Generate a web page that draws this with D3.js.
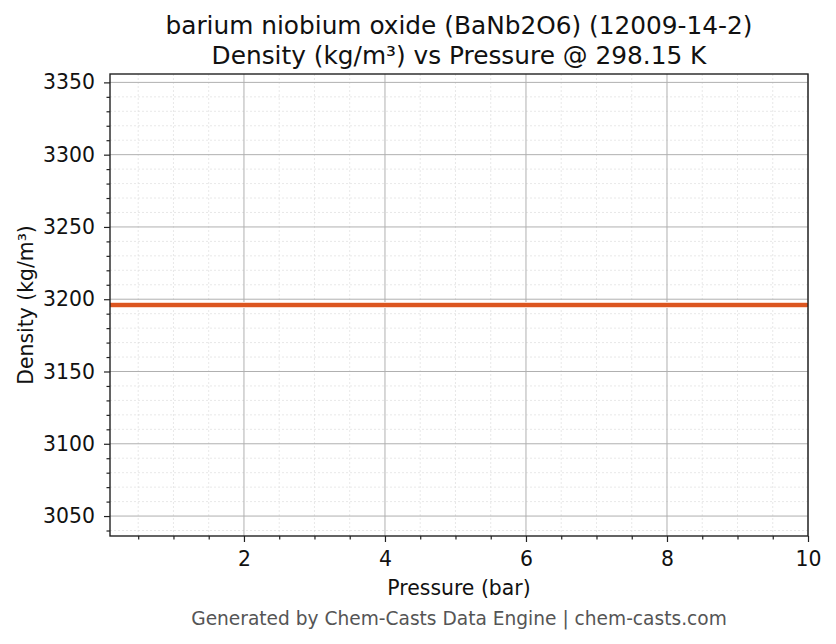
<!DOCTYPE html>
<html lang="en">
<head>
    <meta charset="UTF-8">
    <title>Density vs Pressure</title>
    <script src="https://d3js.org/d3.v7.min.js"></script>
    <style>
        body { margin: 0; background: #fff; }
        svg { display: block; font-family: "DejaVu Sans", sans-serif; }
    </style>
</head>
<body>
    <div id="chart"></div>
    <script>
        // Data
        const pressure = [0.1, 1, 2, 3, 4, 5, 6, 7, 8, 9, 10];
        const density = [3196, 3196, 3196, 3196, 3196, 3196, 3196, 3196, 3196, 3196, 3196];
        const xTicks = [2, 4, 6, 8, 10];
        const yTicks = [3050, 3100, 3150, 3200, 3250, 3300, 3350];

        const titleLines = ['barium niobium oxide (BaNb2O6) (12009-14-2)', 'Density (kg/m³) vs Pressure @ 298.15 K'];
        const xLabel = 'Pressure (bar)';
        const yLabel = 'Density (kg/m³)';
        const footer = 'Generated by Chem-Casts Data Engine | chem-casts.com';

        const width = 836, height = 644;
        const margin = { top: 74, right: 28, bottom: 108, left: 110 };

        const svg = d3.select('#chart').append('svg')
            .attr('width', width)
            .attr('height', height);

        const x = d3.scaleLinear()
            .domain([0.1, 10])
            .range([margin.left, width - margin.right]);

        // matplotlib pads a flat series by 5% either side
        const yMid = d3.mean(density);
        const y = d3.scaleLinear()
            .domain([yMid * 0.95, yMid * 1.05])
            .range([height - margin.bottom, margin.top]);

        const xMinor = d3.range(0.5, 10.01, 0.5).filter(v => !xTicks.includes(v));
        const yMinor = d3.range(3040, 3356, 10).filter(v => !yTicks.includes(v));

        const plot = svg.append('g');

        // minor grid
        plot.selectAll('.xminor').data(xMinor).enter().append('line')
            .attr('x1', d => x(d)).attr('x2', d => x(d))
            .attr('y1', y.range()[0]).attr('y2', y.range()[1])
            .attr('stroke', '#dedede').attr('stroke-width', 0.7).attr('stroke-dasharray', '2,2');
        plot.selectAll('.yminor').data(yMinor).enter().append('line')
            .attr('y1', d => y(d)).attr('y2', d => y(d))
            .attr('x1', x.range()[0]).attr('x2', x.range()[1])
            .attr('stroke', '#dedede').attr('stroke-width', 0.7).attr('stroke-dasharray', '2,2');

        // major grid
        plot.selectAll('.xmajor').data(xTicks).enter().append('line')
            .attr('x1', d => x(d)).attr('x2', d => x(d))
            .attr('y1', y.range()[0]).attr('y2', y.range()[1])
            .attr('stroke', '#b0b0b0').attr('stroke-width', 1);
        plot.selectAll('.ymajor').data(yTicks).enter().append('line')
            .attr('y1', d => y(d)).attr('y2', d => y(d))
            .attr('x1', x.range()[0]).attr('x2', x.range()[1])
            .attr('stroke', '#b0b0b0').attr('stroke-width', 1);

        // series line
        const line = d3.line()
            .x((d, i) => x(pressure[i]))
            .y(d => y(d));
        plot.append('path')
            .datum(density)
            .attr('fill', 'none')
            .attr('stroke', '#fbd9cb')
            .attr('stroke-width', 6)
            .attr('d', line);
        plot.append('path')
            .datum(density)
            .attr('fill', 'none')
            .attr('stroke', '#dc5620')
            .attr('stroke-width', 4)
            .attr('d', line);

        // axes
        svg.append('g')
            .attr('transform', `translate(0,${height - margin.bottom})`)
            .call(d3.axisBottom(x).tickValues(xTicks).tickSize(6).tickPadding(10).tickFormat(d3.format('d')));
        svg.append('g')
            .attr('transform', `translate(0,${height - margin.bottom})`)
            .call(d3.axisBottom(x).tickValues(xMinor).tickSize(3.5).tickFormat(''));

        svg.append('g')
            .attr('transform', `translate(${margin.left},0)`)
            .call(d3.axisLeft(y).tickValues(yTicks).tickSize(6).tickPadding(9).tickFormat(d3.format('d')));
        svg.append('g')
            .attr('transform', `translate(${margin.left},0)`)
            .call(d3.axisLeft(y).tickValues(yMinor).tickSize(3.5).tickFormat(''));

        svg.selectAll('.tick line').attr('stroke', '#222').attr('stroke-width', 1.2);
        svg.selectAll('.tick text').attr('font-size', 20.4).attr('fill', '#111')
            .attr('font-family', '"DejaVu Sans", sans-serif');
        svg.selectAll('.domain').remove();

        // frame
        svg.append('rect')
            .attr('x', margin.left).attr('y', margin.top)
            .attr('width', width - margin.left - margin.right)
            .attr('height', height - margin.top - margin.bottom)
            .attr('fill', 'none').attr('stroke', '#222').attr('stroke-width', 1.4);

        // titles and labels
        svg.append('text')
            .attr('text-anchor', 'middle')
            .attr('font-size', 24.8)
            .attr('fill', '#111')
            .selectAll('tspan').data(titleLines).enter().append('tspan')
            .attr('x', x(5.05))
            .attr('y', (d, i) => 34 + i * 29.5)
            .text(d => d);

        svg.append('text')
            .attr('x', x(5.05)).attr('y', 595)
            .attr('text-anchor', 'middle').attr('font-size', 20.4).attr('fill', '#111')
            .text(xLabel);

        svg.append('text')
            .attr('transform', `translate(33,${(margin.top + height - margin.bottom) / 2}) rotate(-90)`)
            .attr('text-anchor', 'middle').attr('font-size', 20.4).attr('fill', '#111')
            .text(yLabel);

        svg.append('text')
            .attr('x', x(5.05)).attr('y', 625)
            .attr('text-anchor', 'middle').attr('font-size', 18.6).attr('fill', '#555')
            .text(footer);
    </script>
</body>
</html>
